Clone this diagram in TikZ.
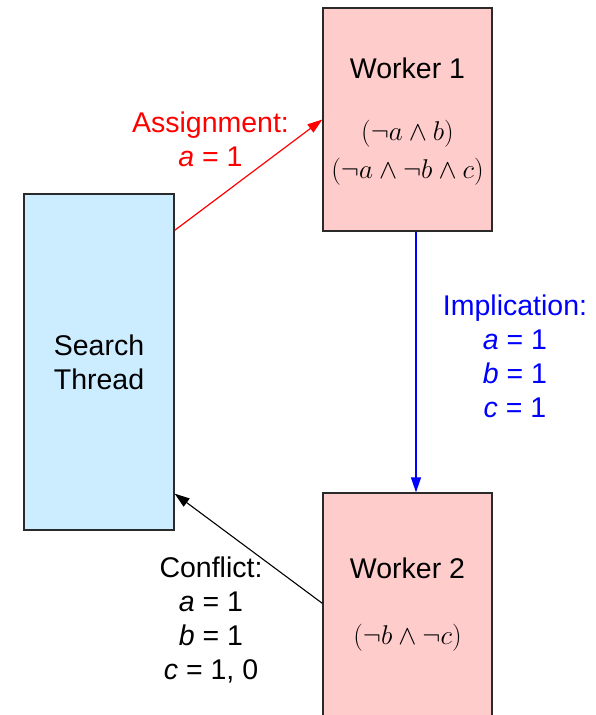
\documentclass[tikz,border=0pt]{standalone}
\usepackage{graphicx}
\usepackage{fontspec}
\setmainfont{Liberation Sans}
\usetikzlibrary{arrows.meta}
\definecolor{workerc}{HTML}{FFCCCC}
\definecolor{searchc}{HTML}{CCECFF}
\definecolor{assignc}{HTML}{FF0000}
\definecolor{implyc}{HTML}{0000FF}
\definecolor{edgec}{HTML}{2A2A2A}
\newcommand{\bigfrm}[1]{\scalebox{1.09}{$#1$}}

\begin{document}
\begin{tikzpicture}[x=1pt, y=-1pt, >={Triangle[length=15pt,width=10pt]},
  box/.style={draw=edgec, line width=1.3pt, inner sep=0pt},
  lbl/.style={font=\fontsize{28.5}{34}\selectfont, align=center, inner sep=0pt},
  frm/.style={font=\fontsize{24.88}{37.5}\selectfont, align=center, inner sep=0pt}]
  \useasboundingbox (0,0) rectangle (596,715);
  \node[box, lbl, fill=searchc, minimum width=150pt, minimum height=336pt] (st) at (99,362) {Search\\Thread};
  \node[box, fill=workerc, minimum width=169pt, minimum height=223pt] (w1) at (407.5,119.5) {};
  \node[box, fill=workerc, minimum width=169pt, minimum height=250pt] (w2) at (407.5,618) {};
  \node[lbl] (w1title) at (407.5,68) {Worker 1};
  \node[frm] (w1frm) at (407.5,152.7) {\bigfrm{(\neg a\wedge b)}\\\bigfrm{(\neg a\wedge\neg b\wedge c)}};
  \node[lbl] (w2title) at (407.5,568.5) {Worker 2};
  \node[frm] (w2frm) at (407.5,638) {\bigfrm{(\neg b\wedge\neg c)}};
  \draw[->, line width=1.2pt, assignc] ([yshift=-37pt]st.north east) -- (w1.west);
  \draw[->, line width=1.2pt, implyc] ([xshift=8.5pt]w1.south) -- ([xshift=8.5pt]w2.north);
  \draw[->, line width=1.1pt, black] ([yshift=-111pt]w2.north west) -- ([yshift=37pt]st.south east);
  \node[lbl, anchor=north, text=assignc] (assign) at (210.5,112) {Assignment:\\{\itshape a} = 1};
  \node[lbl, anchor=north, text=implyc] (imply) at (515,295) {Implication:\\{\itshape a} = 1\\{\itshape b} = 1\\{\itshape c} = 1};
  \node[lbl, anchor=north, black] (conflict) at (211,557) {Conflict:\\{\itshape a} = 1\\{\itshape b} = 1\\{\itshape c} = 1, 0};
\end{tikzpicture}
\end{document}
